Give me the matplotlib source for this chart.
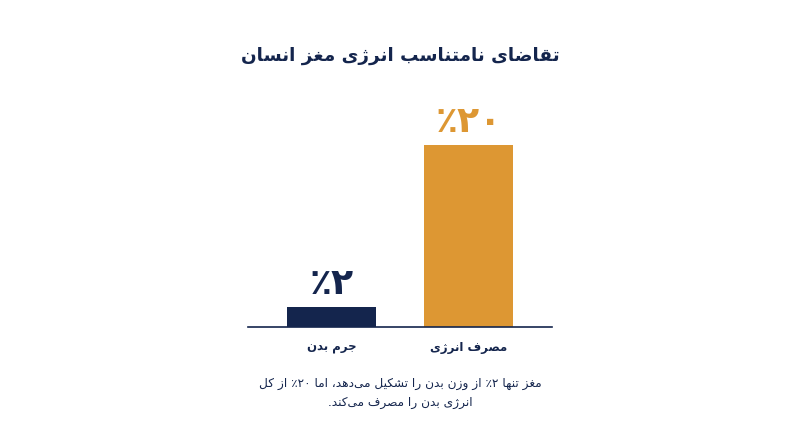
import matplotlib
matplotlib.use("Agg")
import matplotlib.pyplot as plt

TITLE = "تقاضای نامتناسب انرژی مغز انسان"
CATEGORIES = ["جرم بدن", "مصرف انرژی"]
BAR_VALUES = [2.2, 20]
BAR_LABELS = ["۲٪", "۲۰٪"]
CAPTION_LINES = [
    "مغز تنها ۲٪ از وزن بدن را تشکیل می‌دهد، اما ۲۰٪ از کل",
    "انرژی بدن را مصرف می‌کند.",
]

NAVY = "#14254d"
ORANGE = "#dd9733"
BAR_COLORS = [NAVY, ORANGE]

# matplotlib has no Arabic shaping, so pick the presentation forms by hand
# letter: first code point of iso/final/initial/medial run
FOUR_FORMS = {
    "ب": 0xFE8F, "پ": 0xFB56, "ت": 0xFE95, "ث": 0xFE99, "ج": 0xFE9D, "چ": 0xFB7A,
    "ح": 0xFEA1, "خ": 0xFEA5, "س": 0xFEB1, "ش": 0xFEB5, "ص": 0xFEB9, "ض": 0xFEBD,
    "ط": 0xFEC1, "ظ": 0xFEC5, "ع": 0xFEC9, "غ": 0xFECD, "ف": 0xFED1, "ق": 0xFED5,
    "ک": 0xFB8E, "گ": 0xFB92, "ل": 0xFEDD, "م": 0xFEE1, "ن": 0xFEE5, "ه": 0xFEE9,
    "ی": 0xFBFC,
}
# these only join to the letter before them
TWO_FORMS = {
    "ا": 0xFE8D, "آ": 0xFE81, "د": 0xFEA9, "ذ": 0xFEAB, "ر": 0xFEAD, "ز": 0xFEAF,
    "ژ": 0xFB8A, "و": 0xFEED,
}
DIGITS = "۰۱۲۳۴۵۶۷۸۹"


def shape(text):
    out = []
    for i, ch in enumerate(text):
        prev_ch = text[i - 1] if i > 0 else ""
        next_ch = text[i + 1] if i + 1 < len(text) else ""
        joins_prev = prev_ch in FOUR_FORMS and prev_ch != ""
        joins_next = ch in FOUR_FORMS and (next_ch in FOUR_FORMS or next_ch in TWO_FORMS) and next_ch != ""
        if ch in FOUR_FORMS:
            offset = {(0, 0): 0, (1, 0): 1, (0, 1): 2, (1, 1): 3}[(int(joins_prev), int(joins_next))]
            out.append(chr(FOUR_FORMS[ch] + offset))
        elif ch in TWO_FORMS:
            out.append(chr(TWO_FORMS[ch] + int(joins_prev)))
        elif ch != "\u200c":
            out.append(ch)

    # visual order: flip the line, but digit runs stay left to right
    out = out[::-1]
    result = []
    run = []
    for ch in out:
        if ch in DIGITS:
            run.append(ch)
        else:
            result.extend(run[::-1])
            run = []
            result.append(ch)
    result.extend(run[::-1])
    return "".join(result)


W, H = 800, 447
fig = plt.figure(figsize=(W / 100, H / 100), dpi=100, facecolor="white")
plt.rcParams["font.family"] = ["DejaVu Sans"]

# axes: baseline at y=327px, 20 units reach y=145px
ax = fig.add_axes([248 / W, 1 - 327 / H, (552 - 248) / W, (327 - 145) / H])
x = range(len(CATEGORIES))
bars = ax.bar(x, BAR_VALUES, width=0.65, color=BAR_COLORS)
ax.set_xlim(-0.609, 1.609)
ax.set_ylim(0, 20)

for side in ["top", "left", "right"]:
    ax.spines[side].set_visible(False)
ax.spines["bottom"].set_color(NAVY)
ax.spines["bottom"].set_linewidth(1.2)
ax.set_yticks([])
ax.set_xticks(list(x))
ax.set_xticklabels([shape(c) for c in CATEGORIES], fontsize=8.5, fontweight="bold", color=NAVY)
ax.tick_params(axis="x", length=0, pad=10)

for rect, label, color in zip(bars, BAR_LABELS, BAR_COLORS):
    ax.annotate(
        shape(label),
        (rect.get_x() + rect.get_width() / 2, rect.get_height()),
        xytext=(0, 4),
        textcoords="offset points",
        ha="center",
        va="bottom",
        fontsize=26,
        fontweight="bold",
        color=color,
        annotation_clip=False,
    )

fig.text(0.5, 1 - 56 / H, shape(TITLE), ha="center", va="center", fontsize=13.2, fontweight="bold", color=NAVY)
fig.text(
    0.5,
    1 - 393 / H,
    "\n".join(shape(line) for line in CAPTION_LINES),
    ha="center",
    va="center",
    fontsize=8.75,
    color=NAVY,
    linespacing=1.55,
)

fig.savefig("out.png", dpi=100, facecolor="white")
